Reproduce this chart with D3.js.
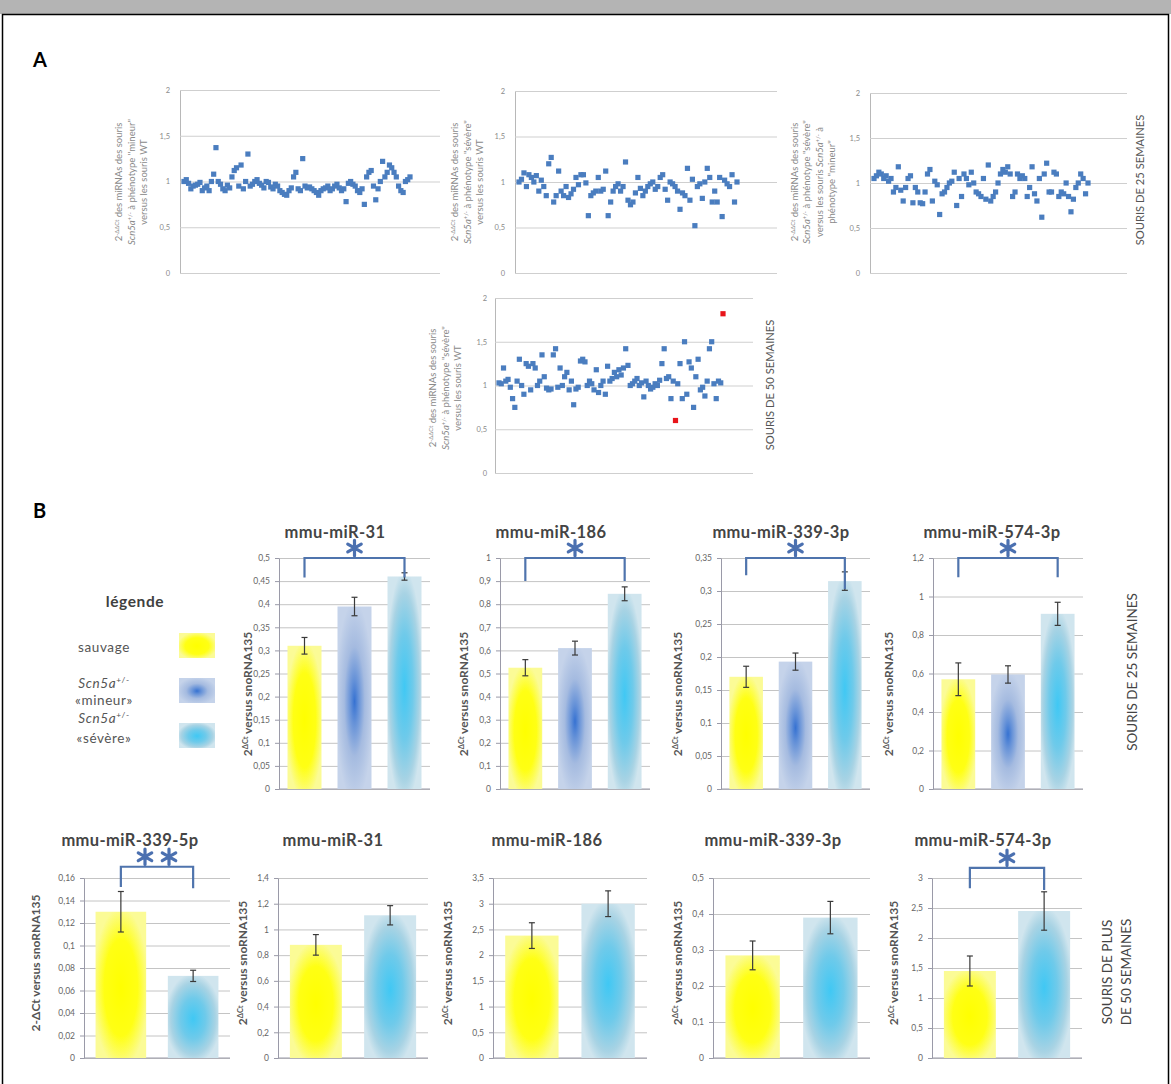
<!DOCTYPE html>
<html><head><meta charset="utf-8">
<script src="https://cdn.jsdelivr.net/npm/d3@7"></script>
<style>body{margin:0;background:#fff}svg{display:block}text{font-family:Lato,"Open Sans",sans-serif}</style>
</head><body><svg id="c" width="1171" height="1084"></svg>
<script>
// ---------------- DATA ----------------
const scatterTicks = [0, 0.5, 1, 1.5, 2];
const scatter1Values = [1.0,1.02,0.98,0.92,0.95,0.96,0.97,0.99,0.9,0.93,0.95,0.9,1.0,1.08,1.37,
 1.0,0.97,0.92,0.9,0.96,0.93,1.05,1.12,1.15,0.95,1.18,0.92,1.0,1.3,
 0.95,0.97,1.0,1.02,0.98,0.96,0.93,1.0,0.99,0.94,0.92,0.97,0.95,0.9,0.88,0.86,0.85,0.9,0.93,1.05,1.1,0.92,0.9,1.25,
 0.95,0.93,0.94,0.92,0.9,0.88,0.85,0.9,0.92,0.93,0.95,0.9,0.92,0.95,0.97,0.93,0.9,0.92,0.78,
 0.98,1.0,0.97,0.95,0.9,0.88,0.92,0.75,1.05,1.1,1.12,0.95,0.8,0.92,1.0,1.22,1.05,1.1,1.18,1.15,1.1,1.05,0.95,0.9,0.88,1.0,1.02,1.05];
const scatter2Values = [1.0,1.03,1.1,0.95,1.08,1.05,1.0,1.07,0.9,1.02,0.95,0.85,1.2,1.27,0.78,0.85,1.12,0.9,0.85,0.95,
 0.83,0.87,0.92,1.05,0.97,1.08,1.08,0.99,0.63,0.85,0.88,0.9,1.05,0.9,0.92,1.12,0.63,0.78,0.9,0.95,
 0.98,0.9,0.95,1.22,0.8,0.75,0.78,0.88,1.05,0.93,0.85,0.9,0.95,0.98,1.0,0.92,0.95,1.05,1.08,0.92,
 0.8,1.0,0.98,0.95,0.9,0.7,0.88,0.85,1.15,0.8,1.03,0.52,0.95,0.98,0.82,1.0,1.15,1.05,0.78,0.9,
 0.78,1.05,0.62,1.02,0.98,0.95,1.08,0.78,1.0];
const scatter3Values = [1.05,1.08,1.12,1.1,1.05,1.08,1.02,1.05,0.9,0.95,1.18,0.92,0.8,0.95,1.05,1.08,0.78,0.95,0.9,0.78,
 0.77,0.9,1.1,1.15,0.8,1.02,0.98,0.65,0.88,0.9,0.95,1.0,1.02,1.12,0.75,1.05,0.85,1.1,1.05,0.98,
 1.12,1.0,0.9,0.88,0.85,1.05,0.82,1.2,0.8,0.85,0.9,1.0,1.1,1.15,1.12,1.18,1.1,0.85,0.9,1.1,
 1.05,1.08,1.05,0.85,0.95,1.18,0.88,0.8,1.05,0.62,1.1,1.22,0.9,0.9,1.12,1.1,0.85,0.9,0.88,1.0,
 0.85,0.68,0.82,0.95,1.0,1.1,1.05,0.88,1.0];
const scatter4Values = [1.03,1.02,1.2,1.05,1.07,0.98,0.85,0.75,1.05,1.3,
 1.0,0.9,1.25,1.22,0.95,1.25,1.2,1.0,1.05,1.35,
 1.1,0.97,0.95,0.96,1.35,1.42,0.98,1.2,1.0,1.1,
 1.15,0.95,1.05,0.78,0.96,0.98,1.28,1.3,1.27,1.0,
 1.05,1.02,0.95,1.18,0.92,1.0,1.05,0.9,1.22,1.05,
 1.08,1.15,1.1,1.18,1.12,1.2,1.42,1.23,1.0,1.02,
 1.05,1.08,1.0,1.03,0.87,1.05,1.0,0.96,0.98,1.02,
 1.0,1.06,1.25,1.42,1.08,1.1,0.85,1.05,0.6,1.02,
 1.25,0.85,1.5,0.9,1.27,1.2,0.75,1.1,1.3,0.95,
 0.98,0.88,1.05,1.42,1.5,1.02,0.85,1.05,1.03,1.82];
const scatter4Highlighted = [78, 99];

const groups3 = ["sauvage", "mineur", "sévère"];
const groups2 = ["sauvage", "sévère"];
const row1Titles = ["mmu-miR-31", "mmu-miR-186", "mmu-miR-339-3p", "mmu-miR-574-3p"];
const row1Means  = [[0.31, 0.395, 0.46], [0.525, 0.61, 0.845], [0.17, 0.193, 0.315], [0.57, 0.595, 0.91]];
const row1Errors = [[0.018, 0.02, 0.008], [0.035, 0.03, 0.03], [0.016, 0.013, 0.014], [0.085, 0.045, 0.06]];
const row1Max  = [0.5, 1, 0.35, 1.2];
const row1Step = [0.05, 0.1, 0.05, 0.2];
const row2Titles = ["mmu-miR-339-5p", "mmu-miR-31", "mmu-miR-186", "mmu-miR-339-3p", "mmu-miR-574-3p"];
const row2Means  = [[0.13, 0.073], [0.88, 1.11], [2.38, 3.0], [0.285, 0.39], [1.45, 2.45]];
const row2Errors = [[0.018, 0.005], [0.08, 0.075], [0.25, 0.25], [0.04, 0.045], [0.25, 0.32]];
const row2Max  = [0.16, 1.4, 3.5, 0.5, 3];
const row2Step = [0.02, 0.2, 0.5, 0.1, 0.5];
// significance brackets: [top value, left leg bottom, right leg bottom, label]
const row1Sig = [[0.5, 0.458, 0.458, "*"], [1.0, 0.9, 0.9, "*"], [0.35, 0.324, 0.303, "*"], [1.2, 1.1, 1.1, "*"]];
const row2Sig = [[0.17, 0.152, 0.151, "**"], null, null, null, [3.17, 2.83, 2.8, "*"]];

// ---------------- DRAW ----------------
const svg = d3.select("#c");
const loc = d3.formatLocale({decimal: ",", thousands: " ", grouping: [3], currency: ["", ""]});
const fmt = loc.format(".6~g");

// frame
svg.append("rect").attr("x", 0).attr("y", 0).attr("width", 1171).attr("height", 14).attr("fill", "#b4b4b4");
svg.append("rect").attr("x", 2.5).attr("y", 14.5).attr("width", 1166).attr("height", 1100)
  .attr("fill", "#fff").attr("stroke", "#000").attr("stroke-width", 1.5);

// gradients
const defs = svg.append("defs");
function radial(id, cy, stops) {
  const g = defs.append("radialGradient").attr("id", id).attr("cx", "50%").attr("cy", cy).attr("r", "55%");
  stops.forEach(s => g.append("stop").attr("offset", s[0]).attr("stop-color", s[1]));
}
radial("gY", "52%", [[0, "#ffff00"], [0.6, "#ffff14"], [1, "#fbfb96"]]);
radial("gM", "52%", [[0, "#3672d2"], [0.22, "#6692d8"], [0.55, "#a5bbe0"], [1, "#c5d3ea"]]);
radial("gS", "52%", [[0, "#40c8f4"], [0.45, "#6fcaea"], [0.8, "#a8d3e4"], [1, "#d0e5ee"]]);
const fillOf = {"sauvage": "url(#gY)", "mineur": "url(#gM)", "sévère": "url(#gS)"};

function rich(textSel, segs, fs) {
  segs.forEach(s => {
    const t = textSel.append("tspan").text(s.t);
    if (s.it) t.attr("font-style", "italic");
    if (s.sup) t.attr("baseline-shift", "super").attr("font-size", fs * 0.62);
  });
}

// Section letters
svg.append("text").attr("x", 33).attr("y", 67).attr("font-size", 20).attr("font-weight", "bold")
  .attr("font-family", "'DejaVu Sans',sans-serif").text("A");
svg.append("text").attr("x", 33).attr("y", 518).attr("font-size", 20).attr("font-weight", "bold")
  .attr("font-family", "'DejaVu Sans',sans-serif").text("B");

// ----- scatter panels -----
const L1 = [{t: "2"}, {t: "-ΔΔCt", sup: 1}, {t: " des miRNAs des souris"}];
const Lmin = [{t: "Scn5a", it: 1}, {t: "+/-", sup: 1}, {t: " à phénotype \"mineur\""}];
const Lsev = [{t: "Scn5a", it: 1}, {t: "+/-", sup: 1}, {t: " à phénotype \"sévère\""}];
const LWT = [{t: "versus les souris WT"}];
const panels = [
  {vals: scatter1Values, x0: 180, x1: 440, pEnd: 410, y0: 90, y1: 273, tickX: 170, labX: 131, labY: 182, lines: [L1, Lmin, LWT]},
  {vals: scatter2Values, x0: 515, x1: 777, pEnd: 737, y0: 91, y1: 273, tickX: 505, labX: 467, labY: 182, lines: [L1, Lsev, LWT]},
  {vals: scatter3Values, x0: 870, x1: 1127, pEnd: 1088, y0: 93, y1: 273, tickX: 860, labX: 813, labY: 182,
    lines: [L1, Lsev, [{t: "versus les souris "}, {t: "Scn5a", it: 1}, {t: "+/-", sup: 1}, {t: " à"}], [{t: "phénotype \"mineur\""}]]},
  {vals: scatter4Values, x0: 495, x1: 753, pEnd: 723, y0: 298, y1: 473, tickX: 487, labX: 445, labY: 388, lines: [L1, Lsev, LWT], red: scatter4Highlighted}
];
panels.forEach(p => {
  const g = svg.append("g");
  const y = d3.scaleLinear().domain([0, 2]).range([p.y1, p.y0]);
  const x = d3.scaleLinear().domain([0, p.vals.length - 1]).range([p.x0 + 4, p.pEnd]);
  const ax = g.append("g").attr("transform", `translate(${p.x0},0)`)
    .call(d3.axisLeft(y).tickValues(scatterTicks).tickSize(-(p.x1 - p.x0)).tickSizeOuter(0).tickPadding(p.x0 - p.tickX).tickFormat(fmt));
  ax.select(".domain").attr("stroke", "#b8b8b8");
  ax.selectAll(".tick line").attr("stroke", "#cfcfcf");
  ax.selectAll(".tick text").attr("fill", "#8a8a8a").attr("font-size", 7.5);
  const red = p.red || [];
  g.selectAll("rect.pt").data(p.vals).join("rect").attr("class", "pt")
    .attr("x", (d, i) => x(i) - 2.6).attr("y", d => y(d) - 2.6).attr("width", 5.2).attr("height", 5.2)
    .attr("fill", (d, i) => red.includes(i) ? "#e8141a" : "#4a7dbf");
  const n = p.lines.length, lh = 12.5;
  p.lines.forEach((ln, k) => {
    const t = g.append("text").attr("font-size", 9.5).attr("fill", "#8a8a8a").attr("text-anchor", "middle")
      .attr("transform", `translate(${p.labX + (k - (n - 1) / 2) * lh + 3.5},${p.labY}) rotate(-90)`);
    rich(t, ln, 9.5);
  });
});
svg.append("text").attr("transform", "translate(1144,180) rotate(-90)").attr("text-anchor", "middle")
  .attr("font-size", 11.2).attr("fill", "#555").text("SOURIS DE 25 SEMAINES");
svg.append("text").attr("transform", "translate(774,385) rotate(-90)").attr("text-anchor", "middle")
  .attr("font-size", 11.2).attr("fill", "#555").text("SOURIS DE 50 SEMAINES");

// ----- legend -----
svg.append("text").attr("x", 135).attr("y", 607).attr("text-anchor", "middle").attr("font-size", 15.5)
  .attr("font-weight", "bold").attr("fill", "#404040").attr("letter-spacing", 0.6).text("légende");
const legItems = [
  {g: "sauvage", y: 633, lines: [[[{t: "sauvage"}], 652]]},
  {g: "mineur", y: 678, lines: [[[{t: "Scn5a", it: 1}, {t: "+/-", sup: 1}], 688], [[{t: "«mineur»"}], 705]]},
  {g: "sévère", y: 723, lines: [[[{t: "Scn5a", it: 1}, {t: "+/-", sup: 1}], 723], [[{t: "«sévère»"}], 743]]}
];
legItems.forEach(it => {
  svg.append("rect").attr("x", 179).attr("y", it.y).attr("width", 36).attr("height", 25).attr("fill", fillOf[it.g]);
  it.lines.forEach(([segs, yy]) => {
    const t = svg.append("text").attr("x", 104).attr("y", yy).attr("text-anchor", "middle").attr("font-size", 13.5)
      .attr("fill", "#555").attr("letter-spacing", 0.6);
    rich(t, segs, 13.5);
  });
});

// ----- bar charts -----
const star = d3.symbol(d3.symbolAsterisk, 170);
function barChart(c) {
  const g = svg.append("g");
  const x = d3.scaleBand().domain(c.groups).range([c.x0, c.x1]).paddingInner(c.pi).paddingOuter(c.po);
  const y = d3.scaleLinear().domain([0, c.max]).range([c.y1, c.y0]);
  const ticks = d3.range(0, c.max + c.step / 2, c.step);
  const grid = g.append("g").attr("transform", `translate(${c.x0},0)`)
    .call(d3.axisLeft(y).tickValues(ticks).tickSize(-(c.x1 - c.x0)).tickFormat(""));
  grid.select(".domain").remove();
  grid.selectAll("line").attr("stroke", "#c4c4c4");
  const ax = g.append("g").attr("transform", `translate(${c.x0},0)`)
    .call(d3.axisLeft(y).tickValues(ticks).tickSize(4).tickSizeOuter(0).tickPadding(5).tickFormat(fmt));
  ax.select(".domain").attr("stroke", "#9a9aa8");
  ax.selectAll(".tick line").attr("stroke", "#9a9aa8");
  ax.selectAll(".tick text").attr("fill", "#666").attr("font-size", 8.5);
  g.append("line").attr("x1", c.x0).attr("x2", c.x1).attr("y1", c.y1).attr("y2", c.y1).attr("stroke", "#9a9aa8");
  const data = c.groups.map((k, i) => ({k, m: c.means[i], e: c.errs[i]}));
  g.selectAll("rect.bar").data(data).join("rect").attr("class", "bar")
    .attr("x", d => x(d.k)).attr("width", x.bandwidth()).attr("y", d => y(d.m)).attr("height", d => y(0) - y(d.m))
    .attr("fill", d => fillOf[d.k]);
  data.forEach(d => {
    const cx = x(d.k) + x.bandwidth() / 2;
    const eg = g.append("g").attr("stroke", "#3a3a3a").attr("stroke-width", 1.2);
    eg.append("line").attr("x1", cx).attr("x2", cx).attr("y1", y(d.m - d.e)).attr("y2", y(d.m + d.e));
    [d.m - d.e, d.m + d.e].forEach(v => eg.append("line").attr("x1", cx - 3).attr("x2", cx + 3).attr("y1", y(v)).attr("y2", y(v)));
  });
  if (c.sig) {
    const [top, lb, rb, lab] = c.sig;
    const xl = x(c.groups[0]) + x.bandwidth() / 2, xr = x(c.groups[c.groups.length - 1]) + x.bandwidth() / 2;
    g.append("path").attr("d", `M${xl},${y(lb)}V${y(top)}H${xr}V${y(rb)}`).attr("fill", "none")
      .attr("stroke", "#4f74ad").attr("stroke-width", 2.2);
    const xm = (xl + xr) / 2, ys = y(top) - 10;
    const offs = lab.length === 2 ? [-12, 12] : [0];
    offs.forEach(o => g.append("path").attr("d", star).attr("transform", `translate(${xm + o},${ys})`)
      .attr("fill", "none").attr("stroke", "#4b70b0").attr("stroke-width", 3.2).attr("stroke-linecap", "round"));
  }
  g.append("text").attr("x", c.tx).attr("y", c.ty).attr("text-anchor", "middle").attr("font-size", 16.5)
    .attr("font-weight", "bold").attr("fill", "#444").attr("letter-spacing", 0.4).text(c.title);
  const lt = g.append("text").attr("transform", `translate(${c.lx},${c.ly}) rotate(-90)`).attr("text-anchor", "middle")
    .attr("font-size", 12).attr("font-weight", "bold").attr("fill", "#555");
  if (c.plainLabel) rich(lt, [{t: "2-ΔCt versus snoRNA135"}], 12);
  else rich(lt, [{t: "2"}, {t: "ΔCt", sup: 1}, {t: " versus snoRNA135"}], 12);
}
const row1Layout = [
  {x0: 279, x1: 430, tx: 335, lx: 252}, {x0: 500, x1: 650, tx: 551, lx: 468},
  {x0: 721, x1: 870, tx: 781, lx: 682}, {x0: 933, x1: 1083, tx: 992, lx: 893}
];
row1Layout.forEach((l, i) => barChart({
  ...l, y0: 558, y1: 789, ty: 538, ly: 694, pi: 0.32, po: 0.17, groups: groups3,
  max: row1Max[i], step: row1Step[i], means: row1Means[i], errs: row1Errors[i], sig: row1Sig[i], title: row1Titles[i]
}));
const row2Layout = [
  {x0: 84, x1: 230, tx: 130, lx: 40, plainLabel: true}, {x0: 278, x1: 428, tx: 333, lx: 247},
  {x0: 493, x1: 647, tx: 547, lx: 452}, {x0: 713, x1: 870, tx: 773, lx: 682}, {x0: 932, x1: 1082, tx: 983, lx: 898}
];
row2Layout.forEach((l, i) => barChart({
  ...l, y0: 878, y1: 1058, ty: 846, ly: 963, pi: 0.3, po: 0.16, groups: groups2,
  max: row2Max[i], step: row2Step[i], means: row2Means[i], errs: row2Errors[i], sig: row2Sig[i], title: row2Titles[i]
}));
svg.append("text").attr("transform", "translate(1137,672) rotate(-90)").attr("text-anchor", "middle")
  .attr("font-size", 13.5).attr("fill", "#444").text("SOURIS DE 25 SEMAINES");
svg.append("text").attr("transform", "translate(1112,972) rotate(-90)").attr("text-anchor", "middle")
  .attr("font-size", 13.5).attr("fill", "#444").text("SOURIS DE PLUS");
svg.append("text").attr("transform", "translate(1131,972) rotate(-90)").attr("text-anchor", "middle")
  .attr("font-size", 13.5).attr("fill", "#444").text("DE 50 SEMAINES");
</script></body></html>
